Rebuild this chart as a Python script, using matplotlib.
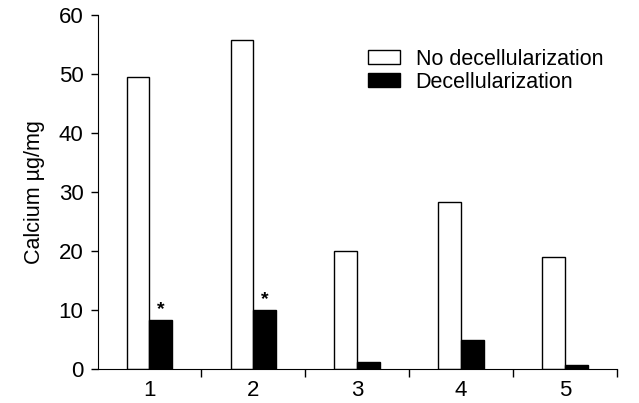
import matplotlib.pyplot as plt
import numpy as np

plt.rcParams["font.family"] = ["Liberation Sans", "DejaVu Sans"]

groups = ["1", "2", "3", "4", "5"]
no_decell = [49.5, 55.8, 20.0, 28.4, 19.0]
decell = [8.3, 10.0, 1.2, 5.0, 0.7]
significant = [True, True, False, False, False]

fig = plt.figure(figsize=(6.39, 4.03), dpi=100)
ax = fig.add_axes([0.1526, 0.0844, 0.813, 0.878])

x = np.arange(1, len(groups) + 1)
w = 0.22
ax.bar(x - w / 2, no_decell, w, color="white", edgecolor="black", linewidth=1.0,
       label="No decellularization")
ax.bar(x + w / 2, decell, w, color="black", edgecolor="black", linewidth=1.0,
       label="Decellularization")
for xi, v, s in zip(x, decell, significant):
    if s:
        ax.text(xi + w / 2, v + 0.4, "*", ha="center", va="bottom", fontsize=14,
                fontweight="bold")

ax.set_xlim(0.5, 5.5)
ax.set_ylim(0, 60)
ax.set_yticks(np.arange(0, 61, 10))
ax.set_xticks(x)
ax.set_xticklabels(groups)
ax.set_xticks(np.arange(1.5, 5.6, 1), minor=True)
ax.tick_params(axis="x", which="major", length=0, pad=8, labelsize=16)
ax.tick_params(axis="x", which="minor", length=6, width=1)
ax.tick_params(axis="y", length=5, width=1, pad=5, labelsize=16)
ax.spines["top"].set_visible(False)
ax.spines["right"].set_visible(False)
ax.set_ylabel("Calcium µg/mg", fontsize=15.5, labelpad=10)

ax.legend(loc="upper left", bbox_to_anchor=(0.521, 0.905), frameon=False, fontsize=15.5,
          handlelength=1.5, handleheight=0.6, handletextpad=0.7, labelspacing=0.1,
          borderpad=0, borderaxespad=0)

plt.savefig("out.png", dpi=100)
